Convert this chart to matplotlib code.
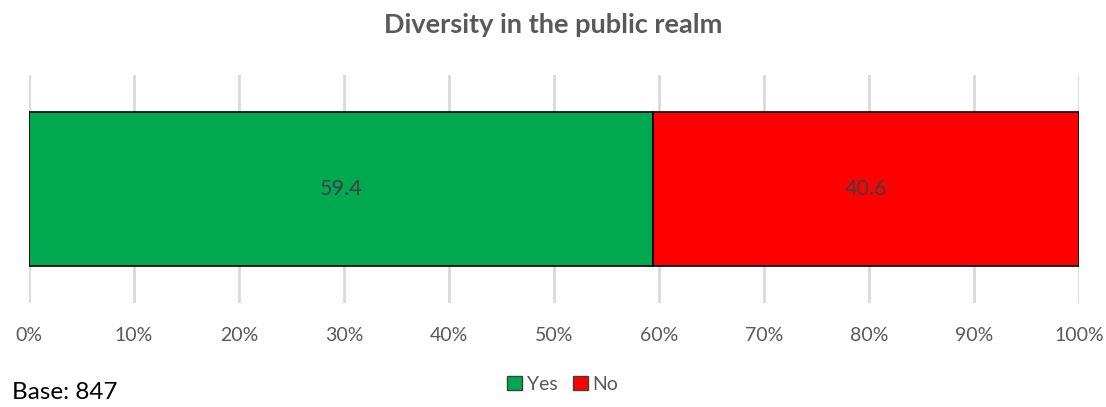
import matplotlib
matplotlib.use("Agg")
import matplotlib.pyplot as plt
from matplotlib.patches import Patch

categories = ["Diversity in the public realm"]
series_names = ["Yes", "No"]
yes_values = [59.4]
no_values = [40.6]
colors = ["#00A84F", "#FF0000"]
xticks = [0, 10, 20, 30, 40, 50, 60, 70, 80, 90, 100]
xtick_labels = [f"{t}%" for t in xticks]

plt.rcParams['font.family'] = ['Lato', 'DejaVu Sans']

fig = plt.figure(figsize=(11.06, 4.07), dpi=100)
ax = fig.add_axes([29/1106, 104/407, 1050/1106, 228/407])

left = 0
for name, vals, c in zip(series_names, [yes_values, no_values], colors):
    bars = ax.barh([0], vals, left=left, height=0.675, color=c,
                   edgecolor="#000000", linewidth=1.2, zorder=3, label=name)
    for b, v in zip(bars, vals):
        ax.text(b.get_x() + b.get_width() / 2, 0, f"{v:.1f}", ha="center",
                va="center", fontsize=15.5, color="#404040", zorder=4)
    left = left + vals[0]

ax.set_xlim(0, 100)
ax.set_ylim(-0.5, 0.5)
ax.set_xticks(xticks)
ax.set_xticklabels(xtick_labels, fontsize=14, color="#595959")
ax.set_yticks([])
ax.tick_params(axis="x", length=0, pad=17)
ax.grid(axis="x", color="#D9D9D9", linewidth=2, zorder=0)
for s in ax.spines.values():
    s.set_visible(False)

fig.text(0.5, 1 - 25/407, categories[0], ha="center", va="center",
         fontsize=19.5, fontweight="bold", color="#595959")

handles = [Patch(facecolor=c, edgecolor="#404040", label=n) for n, c in zip(series_names, colors)]
fig.legend(handles=handles, loc="center", bbox_to_anchor=(563/1106, 1 - 384/407),
           ncol=2, frameon=False, fontsize=14, handlelength=0.75, handleheight=0.75,
           handletextpad=0.25, columnspacing=0.8, labelcolor="#595959")

fig.text(12/1106, 4/407, "Base: 847", ha="left", va="bottom",
         fontsize=17.5, color="#000000")

fig.savefig("out.png", dpi=100)
